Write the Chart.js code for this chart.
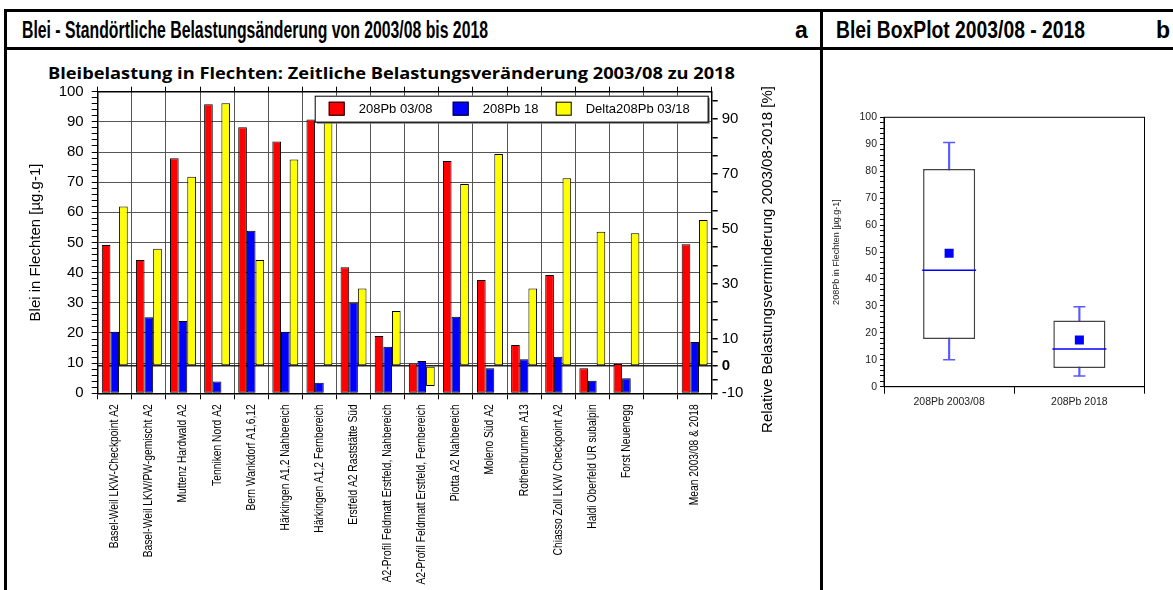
<!DOCTYPE html>
<html>
<head>
<meta charset="utf-8">
<script src="https://cdn.jsdelivr.net/npm/chart.js@4.4.1/dist/chart.umd.min.js"></script>
<style>
  body { margin: 0; width: 1173px; height: 590px; background: #fff; overflow: hidden; position: relative; font-family: 'Liberation Sans', Arial, sans-serif; }
  .line { position: absolute; background: #000; }
  .head { position: absolute; font-family: 'Liberation Sans', Arial, sans-serif; font-weight: bold; font-size: 23px; white-space: nowrap; transform-origin: 0 50%; height: 36px; line-height: 36px; top: 12px; }
  .sub { position: absolute; left: 48px; top: 62px; height: 22px; line-height: 22px; font-family: 'Open Sans', sans-serif; font-weight: bold; font-size: 16px; white-space: nowrap; transform-origin: 0 50%; }
  .wrap { position: absolute; }
</style>
</head>
<body>
<div class="line" style="left:4px;top:9px;width:1169px;height:3px"></div>
<div class="line" style="left:4px;top:47px;width:1169px;height:3px"></div>
<div class="line" style="left:4px;top:9px;width:3px;height:581px"></div>
<div class="line" style="left:820px;top:9px;width:3px;height:581px"></div>

<div class="head" id="t1" style="left:22px">Blei - Standörtliche Belastungsänderung von 2003/08 bis 2018</div>
<div class="head" style="left:795px">a</div>
<div class="head" id="t2" style="left:836px">Blei BoxPlot 2003/08 - 2018</div>
<div class="head" style="left:1156px">b</div>
<div class="sub" id="t3">Bleibelastung in Flechten: Zeitliche Belastungsveränderung 2003/08 zu 2018</div>

<div class="wrap" style="left:7px;top:50px;width:813px;height:540px"><canvas id="bars"></canvas></div>
<div class="wrap" style="left:823px;top:50px;width:350px;height:540px"><canvas id="box"></canvas></div>

<script>
// Standorte (17 + leerer Platz vor dem Mittelwert)
const sites = [
  'Basel-Weil LKW-Checkpoint A2',
  'Basel-Weil LKW/PW-gemischt A2',
  'Muttenz Hardwald A2',
  'Tenniken Nord A2',
  'Bern Wankdorf A1,6,12',
  'Härkingen A1,2 Nahbereich',
  'Härkingen A1,2 Fernbereich',
  'Erstfeld A2 Raststätte Süd',
  'A2-Profil Feldmatt Erstfeld, Nahbereich',
  'A2-Profil Feldmatt Erstfeld, Fernbereich',
  'Piotta A2 Nahbereich',
  'Moleno Süd A2',
  'Rothenbrunnen A13',
  'Chiasso Zoll LKW Checkpoint A2',
  'Haldi Oberfeld UR subalpin',
  'Forst Neuenegg',
  '',
  'Mean 2003/08 & 2018'
];
const pb0308 = [49.2, 44.2, 77.9, 95.8, 88.2, 83.5, 90.8, 41.8, 19.0, 9.9, 77.0, 37.6, 16.0, 39.2, 8.3, 9.7, null, 49.4];
const pb18   = [20.4, 25.2, 24.0, 3.9, 53.9, 20.4, 3.5, 30.0, 15.4, 10.7, 25.4, 8.3, 11.3, 12.1, 4.2, 5.0, null, 17.0];
const delta  = [58.1, 42.7, 69.0, 95.8, 38.6, 75.3, 90.0, 28.2, 20.0, -7.3, 66.3, 77.3, 28.2, 68.4, 48.9, 48.4, null, 53.2];

const rightLabels = [-10, 0, 10, 30, 50, 70, 90];

// Boxplot
const boxLabels = ['208Pb 2003/08', '208Pb 2018'];
const boxMin    = [10.0, 4.0];
const boxQ1     = [17.7, 6.9];
const boxMedian = [43.2, 14.0];
const boxQ3     = [80.8, 24.6];
const boxMax    = [90.6, 29.7];
const boxMean   = [49.5, 17.3];

function fitWidth(id, w) {
  const el = document.getElementById(id);
  el.style.transform = 'scaleX(' + (w / el.getBoundingClientRect().width) + ')';
}
fitWidth('t1', 466);
fitWidth('t2', 249);
fitWidth('t3', 687);

Chart.defaults.font.family = "'Liberation Sans', Arial, sans-serif";
Chart.defaults.color = '#000';

// legend box inside the plot
const boxLegend = {
  id: 'boxLegend',
  afterDatasetsDraw(chart) {
    const { ctx, chartArea: a } = chart;
    const left = a.left + 217, top = a.top + 4, w = a.right - 4 - left, h = 26;
    const offs = [14, 138, 241];
    ctx.save();
    ctx.fillStyle = '#777';
    ctx.fillRect(left + 2, top + 2, w, h);
    ctx.fillStyle = '#fff';
    ctx.fillRect(left, top, w, h);
    ctx.strokeStyle = '#000';
    ctx.lineWidth = 1;
    ctx.strokeRect(left + 0.5, top + 0.5, w, h);
    ctx.font = "13px 'Liberation Sans', Arial, sans-serif";
    ctx.textBaseline = 'middle';
    chart.data.datasets.forEach((ds, i) => {
      const x = left + offs[i];
      ctx.fillStyle = ds.backgroundColor;
      ctx.fillRect(x, top + 6, 16, 14);
      ctx.strokeRect(x + 0.5, top + 6.5, 15, 13);
      ctx.fillStyle = '#000';
      ctx.fillText(ds.label, x + 30, top + 13.5);
    });
    ctx.restore();
  }
};

// right axis title reads bottom-to-top like the left one
const rightTitle = {
  id: 'rightTitle',
  afterDraw(chart, args, opts) {
    const { ctx, chartArea: a, scales } = chart;
    ctx.save();
    ctx.font = "15px 'Liberation Sans', Arial, sans-serif";
    ctx.fillStyle = '#000';
    ctx.textAlign = 'center';
    ctx.textBaseline = 'middle';
    ctx.translate(scales.y2.right - 52, (a.top + a.bottom) / 2 + 17);
    ctx.rotate(-Math.PI / 2);
    ctx.fillText(opts.text, 0, 0);
    ctx.restore();
  }
};

// narrow rotated category labels (no condensed font installed, so squeeze Liberation Sans)
const narrowLabels = {
  id: 'narrowLabels',
  afterDraw(chart, args, opts) {
    const { ctx, scales: { x } } = chart;
    ctx.save();
    ctx.font = "12.5px 'Liberation Sans', Arial, sans-serif";
    ctx.fillStyle = '#000';
    ctx.textAlign = 'right';
    ctx.textBaseline = 'middle';
    const squeeze = opts.longest / ctx.measureText('A2-Profil Feldmatt Erstfeld, Nahbereich').width;
    chart.data.labels.forEach((lab, i) => {
      if (!lab) return;
      ctx.save();
      ctx.translate(x.getPixelForValue(i), x.top + 11);
      ctx.rotate(-Math.PI / 2);
      ctx.scale(squeeze, 1);
      ctx.fillText(lab, 0, 0);
      ctx.restore();
    });
    ctx.restore();
  }
};

new Chart(document.getElementById('bars'), {
  type: 'bar',
  data: {
    labels: sites,
    datasets: [
      { label: '208Pb 03/08', data: pb0308, backgroundColor: '#ff0000', yAxisID: 'y' },
      { label: '208Pb 18', data: pb18, backgroundColor: '#0000ff', yAxisID: 'y' },
      { label: 'Delta208Pb 03/18', data: delta, backgroundColor: '#ffff00', yAxisID: 'y2' }
    ]
  },
  options: {
    responsive: true,
    maintainAspectRatio: false,
    animation: false,
    layout: { padding: 0 },
    datasets: {
      bar: { borderColor: '#000', borderWidth: 1, borderSkipped: false, categoryPercentage: 0.76, barPercentage: 1 }
    },
    plugins: {
      legend: { display: false },
      tooltip: { enabled: false },
      rightTitle: { text: 'Relative Belastungsverminderung 2003/08-2018 [%]' },
      narrowLabels: { longest: 178 }
    },
    scales: {
      x: {
        type: 'category',
        offset: true,
        grid: { offset: true, color: '#555', tickLength: 6, tickColor: '#000' },
        border: { color: '#000', width: 1.5 },
        ticks: { display: false },
        afterFit: s => { s.height = 196.7; }
      },
      x2: {
        type: 'category',
        position: 'top',
        offset: true,
        grid: { offset: true, drawOnChartArea: false, tickLength: 5, tickColor: '#000' },
        border: { color: '#000', width: 1.5 },
        ticks: { display: false },
        afterFit: s => { s.height = 41.7; }
      },
      y: {
        position: 'left',
        min: 0,
        max: 100,
        ticks: { stepSize: 2, autoSkip: false, padding: 8, font: { size: 15 }, callback: v => (v % 10 === 0 ? v : '') },
        grid: {
          color: c => (c.tick && c.tick.value % 10 === 0 ? '#555' : 'rgba(0,0,0,0)'),
          tickColor: '#000',
          tickLength: 6
        },
        border: { color: '#000', width: 1.5 },
        title: { display: true, text: 'Blei in Flechten [µg.g-1]', font: { size: 15 }, padding: { top: 20, bottom: 0 } },
        afterFit: s => { s.width = 90.7; }
      },
      y2: {
        position: 'right',
        min: -10,
        max: 100,
        afterBuildTicks: s => {
          const t = [-10, -5, 0, 5];
          for (let i = 2; i < rightLabels.length; i++) {
            const a = rightLabels[i];
            t.push(a, a + 20 / 3, a + 40 / 3);
          }
          s.ticks = t.filter(v => v <= 100).map(v => ({ value: v }));
        },
        ticks: {
          autoSkip: false,
          padding: 4,
          callback: v => (rightLabels.includes(v) ? v : ''),
          font: c => ({ size: 15, weight: c.tick && c.tick.value === 0 ? 'bold' : 'normal' })
        },
        grid: {
          color: c => (c.tick && c.tick.value === 0 ? '#222' : 'rgba(0,0,0,0)'),
          lineWidth: 1.5,
          tickColor: '#000',
          tickLength: 6
        },
        border: { color: '#000', width: 1.5 },
        afterFit: s => { s.width = 108.3; }
      }
    }
  },
  plugins: [boxLegend, rightTitle, narrowLabels]
});

// frame round the box plot area
const frame = {
  id: 'frame',
  afterDraw(chart) {
    const { ctx, chartArea: a } = chart;
    ctx.save();
    ctx.strokeStyle = '#000';
    ctx.lineWidth = 1;
    ctx.strokeRect(a.left, a.top, a.right - a.left, a.bottom - a.top);
    ctx.restore();
  }
};

new Chart(document.getElementById('box'), {
  type: 'bar',
  data: {
    labels: boxLabels,
    datasets: [
      { type: 'line', label: 'Mittelwert', data: boxMean, showLine: false, pointStyle: 'rect', pointRadius: 6.4,
        pointBackgroundColor: '#0000ff', pointBorderColor: '#0000ff', pointBorderWidth: 0, order: 0 },
      { type: 'line', label: 'Median', data: boxMedian, showLine: false, pointStyle: 'line', pointRadius: 27,
        pointBorderColor: '#0000ff', pointBorderWidth: 1.5, order: 1 },
      { type: 'line', label: 'Max', data: boxMax, showLine: false, pointStyle: 'line', pointRadius: 6,
        pointBorderColor: '#5a5aff', pointBorderWidth: 1.5, order: 1 },
      { type: 'line', label: 'Min', data: boxMin, showLine: false, pointStyle: 'line', pointRadius: 6,
        pointBorderColor: '#5a5aff', pointBorderWidth: 1.5, order: 1 },
      { label: 'Box', data: boxQ1.map((q, i) => [q, boxQ3[i]]), backgroundColor: '#fff', borderColor: '#444',
        borderWidth: 1.5, borderSkipped: false, grouped: false, barPercentage: 0.4, categoryPercentage: 1, order: 2 },
      { label: 'Whisker', data: boxMin.map((m, i) => [m, boxMax[i]]), backgroundColor: '#5a5aff',
        borderWidth: 0, grouped: false, barThickness: 1.5, order: 3 }
    ]
  },
  options: {
    responsive: true,
    maintainAspectRatio: false,
    animation: false,
    layout: { padding: { top: 67.3, right: 19.7, left: 0, bottom: 0 } },
    plugins: { legend: { display: false }, tooltip: { enabled: false } },
    scales: {
      x: {
        type: 'category',
        offset: true,
        grid: { offset: true, drawOnChartArea: false, tickLength: 7, tickColor: '#000', color: '#000' },
        border: { color: '#000', width: 1 },
        ticks: { font: { size: 10.5 }, color: '#222', padding: 2 },
        afterFit: s => { s.height = 203.3; }
      },
      y: {
        min: 0,
        max: 100,
        ticks: { stepSize: 2, autoSkip: false, font: { size: 10.5 }, color: '#222', padding: 3,
          callback: v => (v % 10 === 0 ? v : '') },
        grid: { drawOnChartArea: false, tickLength: 4, tickColor: '#000' },
        border: { color: '#000', width: 1 },
        title: { display: true, text: '208Pb in Flechten [µg.g-1]', font: { size: 9 }, color: '#222', padding: { top: 8, bottom: 0 } },
        afterFit: s => { s.width = 61; }
      }
    }
  },
  plugins: [frame]
});
</script>
</body>
</html>
